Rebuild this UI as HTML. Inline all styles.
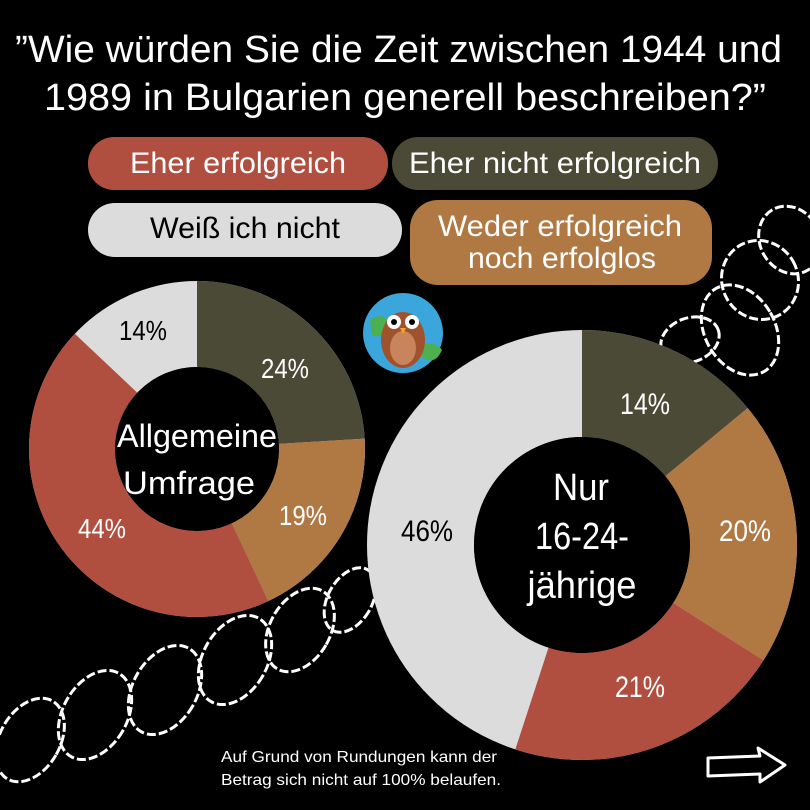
<!DOCTYPE html>
<html><head><meta charset="utf-8"><style>
html,body{margin:0;padding:0;background:#000;}
svg{display:block;}
text{font-family:"Liberation Sans Narrow","Liberation Sans",sans-serif;fill:#fff;}
</style></head><body>
<svg width="810" height="810" viewBox="0 0 810 810" xmlns="http://www.w3.org/2000/svg">
<rect width="810" height="810" fill="#000"/>
<!-- Title -->
<text x="15" y="62" font-size="38" textLength="767" lengthAdjust="spacingAndGlyphs">”Wie würden Sie die Zeit zwischen 1944 und</text>
<text x="44" y="110" font-size="38" textLength="722" lengthAdjust="spacingAndGlyphs">1989 in Bulgarien generell beschreiben?”</text>

<!-- Legend -->
<rect x="88" y="137" width="300" height="53" rx="26" fill="#b04f3f"/>
<text x="238" y="173" font-size="30" text-anchor="middle" textLength="216" lengthAdjust="spacingAndGlyphs">Eher erfolgreich</text>
<rect x="392" y="137" width="326" height="53" rx="26" fill="#4a4a36"/>
<text x="555" y="173" font-size="30" text-anchor="middle" textLength="292" lengthAdjust="spacingAndGlyphs">Eher nicht erfolgreich</text>
<rect x="88" y="203" width="314" height="54" rx="27" fill="#dcdcdc"/>
<text x="245" y="238" font-size="30" text-anchor="middle" style="fill:#000" textLength="190" lengthAdjust="spacingAndGlyphs">Weiß ich nicht</text>
<rect x="410" y="200" width="302" height="85" rx="28" fill="#b07843"/>
<text x="560" y="236" font-size="30" text-anchor="middle" textLength="244" lengthAdjust="spacingAndGlyphs">Weder erfolgreich</text>
<text x="562" y="268" font-size="30" text-anchor="middle" textLength="188" lengthAdjust="spacingAndGlyphs">noch erfolglos</text>

<!-- Barbed wire decorations -->
<g fill="none" stroke="#fff" stroke-width="3" stroke-dasharray="9 3">
<ellipse cx="30" cy="740" rx="30" ry="45" transform="rotate(30 30 740)"/>
<ellipse cx="95" cy="715" rx="32" ry="48" transform="rotate(30 95 715)"/>
<ellipse cx="165" cy="690" rx="32" ry="48" transform="rotate(30 165 690)"/>
<ellipse cx="235" cy="660" rx="32" ry="48" transform="rotate(30 235 660)"/>
<ellipse cx="300" cy="630" rx="30" ry="45" transform="rotate(30 300 630)"/>
<ellipse cx="350" cy="600" rx="22" ry="35" transform="rotate(30 350 600)"/>
<ellipse cx="690" cy="340" rx="30" ry="22" transform="rotate(-20 690 340)"/>
<ellipse cx="740" cy="330" rx="35" ry="48" transform="rotate(-30 740 330)"/>
<ellipse cx="760" cy="280" rx="38" ry="40" transform="rotate(-30 760 280)"/>
<ellipse cx="790" cy="240" rx="30" ry="35" transform="rotate(-30 790 240)"/>
</g>

<!-- Donut 1 -->
<g transform="rotate(-90 197 449)" fill="none" stroke-width="86">
<circle cx="197" cy="449" r="125" stroke="#dcdcdc"/>
<circle cx="197" cy="449" r="125" stroke="#4a4a36" stroke-dasharray="188.5 785.4" stroke-dashoffset="0"/>
<circle cx="197" cy="449" r="125" stroke="#b07843" stroke-dasharray="149.2 785.4" stroke-dashoffset="-188.5"/>
<circle cx="197" cy="449" r="125" stroke="#b04f3f" stroke-dasharray="345.6 785.4" stroke-dashoffset="-337.7"/>
</g>
<circle cx="197" cy="449" r="82" fill="#000"/>
<g font-size="28" text-anchor="middle">
<text x="285" y="378" textLength="48" lengthAdjust="spacingAndGlyphs">24%</text>
<text x="303" y="525" textLength="48" lengthAdjust="spacingAndGlyphs">19%</text>
<text x="102" y="538" textLength="48" lengthAdjust="spacingAndGlyphs">44%</text>
<text x="143" y="340" style="fill:#000" textLength="48" lengthAdjust="spacingAndGlyphs">14%</text>
</g>
<text x="197" y="447" font-size="32" text-anchor="middle" textLength="160" lengthAdjust="spacingAndGlyphs">Allgemeine</text>
<text x="189" y="494" font-size="32" text-anchor="middle" textLength="132" lengthAdjust="spacingAndGlyphs">Umfrage</text>

<!-- Donut 2 -->
<g transform="rotate(-90 582 545)" fill="none" stroke-width="107">
<circle cx="582" cy="545" r="161.5" stroke="#dcdcdc"/>
<circle cx="582" cy="545" r="161.5" stroke="#4a4a36" stroke-dasharray="142.1 1014.7" stroke-dashoffset="0"/>
<circle cx="582" cy="545" r="161.5" stroke="#b07843" stroke-dasharray="202.9 1014.7" stroke-dashoffset="-142.1"/>
<circle cx="582" cy="545" r="161.5" stroke="#b04f3f" stroke-dasharray="213.1 1014.7" stroke-dashoffset="-345"/>
</g>
<circle cx="582" cy="545" r="108" fill="#000"/>
<g font-size="30" text-anchor="middle">
<text x="645" y="414" textLength="50" lengthAdjust="spacingAndGlyphs">14%</text>
<text x="745" y="541" textLength="52" lengthAdjust="spacingAndGlyphs">20%</text>
<text x="640" y="697" textLength="50" lengthAdjust="spacingAndGlyphs">21%</text>
<text x="427" y="541" style="fill:#000" textLength="52" lengthAdjust="spacingAndGlyphs">46%</text>
</g>
<g font-size="38" text-anchor="middle">
<text x="581" y="500" textLength="56" lengthAdjust="spacingAndGlyphs">Nur</text>
<text x="582" y="549" textLength="94" lengthAdjust="spacingAndGlyphs">16-24-</text>
<text x="582" y="598" textLength="109" lengthAdjust="spacingAndGlyphs">jährige</text>
</g>

<!-- Owl -->
<circle cx="403" cy="333" r="40" fill="#3aa6dc"/>
<path d="M370 320 q15 -10 20 5 q-5 15 -18 10z M420 345 q15 -5 22 5 q-8 18 -22 5z" fill="#4caf50"/>
<ellipse cx="403" cy="340" rx="22" ry="28" fill="#a0522d"/>
<ellipse cx="403" cy="348" rx="13" ry="17" fill="#c8845a"/>
<circle cx="394" cy="322" r="7" fill="#fff"/><circle cx="412" cy="322" r="7" fill="#fff"/>
<circle cx="394" cy="322" r="3" fill="#000"/><circle cx="412" cy="322" r="3" fill="#000"/>
<path d="M400 328 l3 6 l3 -6z" fill="#f5a623"/>

<!-- Footnote -->
<text x="221" y="762" font-size="16" textLength="276" lengthAdjust="spacingAndGlyphs">Auf Grund von Rundungen kann der</text>
<text x="221" y="785" font-size="16" textLength="280" lengthAdjust="spacingAndGlyphs">Betrag sich nicht auf 100% belaufen.</text>

<!-- Arrow -->
<path d="M708 758 L760 756 L758 748 L785 765 L760 782 L760 774 L708 776 Z" fill="none" stroke="#fff" stroke-width="3" stroke-linejoin="round"/>
</svg>
</body></html>
